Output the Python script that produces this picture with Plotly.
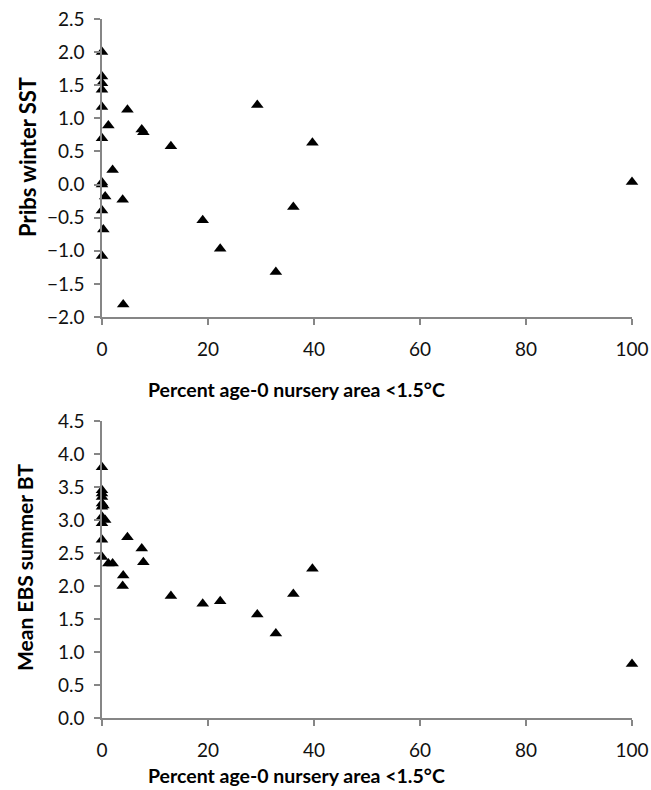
import plotly.graph_objects as go
from plotly.subplots import make_subplots

# Percent age-0 nursery area < 1.5 °C (one value per year)
pct_cold_area = [0, 0, 0, 0, 0, 0, 0, 0, 0, 0,
                 0.25, 0.6, 1.2, 2.0, 3.9, 4.0, 4.8, 7.5, 7.8, 13.0,
                 19.0, 22.3, 29.3, 32.8, 36.1, 39.7, 100.0]

# Pribilof winter SST
pribs_winter_sst = [2.0, 1.63, 1.53, 1.43, 1.17, 0.70, 0.03, 0.0, -0.39, -1.08,
                    -0.68, -0.18, 0.89, 0.22, -0.23, -1.81, 1.13, 0.83, 0.79, 0.58,
                    -0.54, -0.97, 1.20, -1.32, -0.34, 0.63, 0.04]

# Mean EBS summer bottom temperature
ebs_summer_bt = [3.80, 3.45, 3.40, 3.35, 3.25, 3.20, 3.05, 2.95, 2.70, 2.44,
                 3.22, 3.00, 2.34, 2.34, 2.00, 2.16, 2.74, 2.57, 2.36, 1.85,
                 1.73, 1.77, 1.57, 1.28, 1.88, 2.26, 0.82]

x_ticks = [0, 20, 40, 60, 80, 100]
x_title = "Percent age-0 nursery area <1.5°C"
y_title_top = "Pribs winter SST"
y_title_bottom = "Mean EBS summer BT"

W, H = 651, 790
ML, MR, MT, MB = 102, 19, 19, 72
PH = H - MT - MB

def py(p):
    return (H - MB - p) / PH

def px(p):
    return (p - ML) / (W - ML - MR)

fig = make_subplots(rows=2, cols=1)
fig.update_layout(
    yaxis=dict(domain=[py(317), 1.0]),
    yaxis2=dict(domain=[0.0, py(421)]),
    xaxis=dict(domain=[0, 1]),
    xaxis2=dict(domain=[0, 1]),
)

marker = dict(symbol="triangle-up", size=11, color="black", line=dict(width=0))
fig.add_trace(go.Scatter(x=pct_cold_area, y=pribs_winter_sst, mode="markers",
                         marker=marker, cliponaxis=False, showlegend=False), row=1, col=1)
fig.add_trace(go.Scatter(x=pct_cold_area, y=ebs_summer_bt, mode="markers",
                         marker=marker, cliponaxis=False, showlegend=False), row=2, col=1)

axis_common = dict(showline=True, linecolor="#868686", linewidth=1.5,
                   ticks="outside", tickcolor="#868686", tickwidth=1.5, ticklen=6,
                   showgrid=False, zeroline=False, automargin=False,
                   ticklabeloverflow="allow",
                   tickfont=dict(family="Lato", size=19, color="#111111"))

for r in (1, 2):
    fig.update_xaxes(range=[0, 100], tickvals=x_ticks, ticklabelstandoff=8,
                     **axis_common, row=r, col=1)
fig.update_yaxes(range=[-2.0, 2.5], dtick=0.5, tickformat=".1f", ticklabelstandoff=6,
                 **axis_common, row=1, col=1)
fig.update_yaxes(range=[0, 4.5], dtick=0.5, tickformat=".1f", ticklabelstandoff=6,
                 **axis_common, row=2, col=1)

xt_font = dict(family="Lato", size=19.5, color="#000000")
fig.add_annotation(text="<b>" + x_title + "</b>", xref="paper", yref="paper",
                   x=px(296), y=py(390), xanchor="center", yanchor="middle",
                   showarrow=False, font=xt_font)
fig.add_annotation(text="<b>" + x_title + "</b>", xref="paper", yref="paper",
                   x=px(296), y=py(775), xanchor="center", yanchor="middle",
                   showarrow=False, font=xt_font)
fig.add_annotation(text="<b>" + y_title_top + "</b>", xref="paper", yref="paper",
                   x=px(27), y=py(157), xanchor="center", yanchor="middle",
                   textangle=-90, showarrow=False,
                   font=dict(family="Lato", size=22, color="#000000"))
fig.add_annotation(text="<b>" + y_title_bottom + "</b>", xref="paper", yref="paper",
                   x=px(24), y=py(568), xanchor="center", yanchor="middle",
                   textangle=-90, showarrow=False,
                   font=dict(family="Lato", size=21, color="#000000"))

fig.update_layout(width=W, height=H, margin=dict(l=ML, r=MR, t=MT, b=MB, autoexpand=False),
                  plot_bgcolor="white", paper_bgcolor="white")

fig.write_html("out.html", config={"displayModeBar": False},
               post_script="document.body.style.margin='0';document.body.style.overflow='hidden';")
